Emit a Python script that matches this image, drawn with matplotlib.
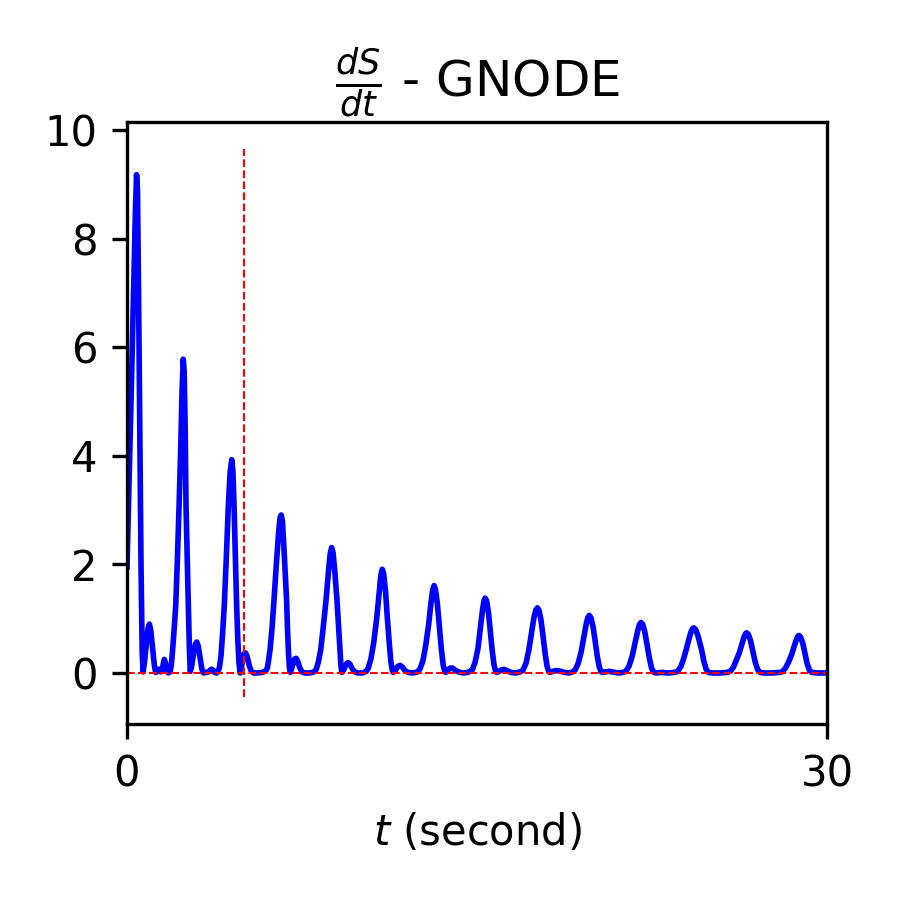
import matplotlib
matplotlib.use("Agg")
import matplotlib.pyplot as plt
import numpy as np

# ---- data (t in seconds, dS/dt) ----
t_early = [0.00, 0.10, 0.20, 0.30, 0.36, 0.41, 0.45, 0.50, 0.55, 0.60, 0.65, 0.69,
           0.75, 0.82, 0.90, 0.96, 1.02, 1.10, 1.17, 1.23, 1.30, 1.37, 1.44, 1.50,
           1.56, 1.60, 1.65, 1.72, 1.77, 1.85, 1.90, 1.95, 2.02, 2.09, 2.16, 2.23,
           2.30, 2.36, 2.41, 2.45, 2.49, 2.53, 2.58, 2.63, 2.67, 2.71, 2.76, 2.85,
           2.93, 2.99, 3.05, 3.13, 3.21, 3.28, 3.38, 3.50, 3.58, 3.63, 3.69, 3.76,
           3.84, 3.92, 3.96, 4.03, 4.10, 4.17, 4.25, 4.34, 4.42, 4.49, 4.54, 4.59,
           4.65, 4.70, 4.75, 4.80, 4.85, 4.90, 4.97, 5.03, 5.08, 5.15, 5.23, 5.32,
           5.42, 5.60, 5.80, 5.95]
ds_early = [1.95, 3.70, 5.50, 7.40, 8.50, 9.18, 8.90, 6.80, 4.30, 2.00, 0.40, 0.02,
            0.20, 0.50, 0.82, 0.90, 0.78, 0.45, 0.15, 0.01, 0.03, 0.07, 0.02, 0.03,
            0.18, 0.25, 0.18, 0.03, 0.00, 0.02, 0.15, 0.40, 0.80, 1.25, 2.10, 3.05,
            4.10, 5.20, 5.78, 5.55, 4.60, 3.06, 2.10, 1.22, 0.50, 0.03, 0.10, 0.35,
            0.53, 0.57, 0.50, 0.28, 0.07, 0.00, 0.01, 0.02, 0.06, 0.07, 0.05, 0.01,
            0.00, 0.05, 0.10, 0.32, 0.75, 1.25, 2.05, 3.05, 3.70, 3.93, 3.70, 3.05,
            2.05, 1.22, 0.60, 0.18, 0.00, 0.10, 0.27, 0.36, 0.37, 0.30, 0.15, 0.04,
            0.00, 0.00, 0.01, 0.04]

t_middle = [6.02, 6.13, 6.22, 6.30, 6.40, 6.50, 6.56, 6.61, 6.66, 6.72, 6.78, 6.84,
            6.88, 6.92, 6.96, 7.00, 7.05, 7.12, 7.19, 7.25, 7.32, 7.40, 7.50, 7.62,
            7.80, 7.95, 8.06, 8.12, 8.20, 8.30, 8.40, 8.53, 8.63, 8.71, 8.77, 8.83,
            8.90, 9.00, 9.07, 9.13, 9.17, 9.21, 9.28, 9.36, 9.43, 9.49, 9.56, 9.65,
            9.76, 9.90, 10.10, 10.25, 10.33, 10.45, 10.57, 10.70, 10.80, 10.88, 10.94,
            11.00, 11.08, 11.16, 11.24, 11.31, 11.37, 11.41, 11.50, 11.60, 11.70, 11.80,
            11.92, 12.05, 12.25, 12.45, 12.55, 12.68, 12.80, 12.93, 13.03, 13.10, 13.16,
            13.22, 13.30, 13.39, 13.47, 13.55, 13.61, 13.66, 13.75, 13.85, 13.95, 14.07,
            14.20, 14.40, 14.60, 14.70, 14.80, 14.92, 15.04, 15.15, 15.24, 15.30, 15.35,
            15.41, 15.49, 15.57, 15.65, 15.73, 15.80, 15.85, 15.95, 16.06, 16.16, 16.28,
            16.45, 16.65, 16.85]
ds_middle = [0.10, 0.42, 0.85, 1.34, 2.00, 2.60, 2.86, 2.91, 2.80, 2.35, 1.85, 1.34,
             0.80, 0.38, 0.10, 0.01, 0.07, 0.18, 0.26, 0.27, 0.21, 0.10, 0.02, 0.00,
             0.00, 0.01, 0.03, 0.08, 0.20, 0.42, 0.80, 1.34, 1.85, 2.20, 2.31, 2.22,
             1.90, 1.34, 0.85, 0.42, 0.12, 0.01, 0.05, 0.13, 0.18, 0.19, 0.16, 0.08,
             0.02, 0.00, 0.00, 0.03, 0.08, 0.25, 0.55, 1.00, 1.45, 1.80, 1.91,
             1.83, 1.50, 1.00, 0.55, 0.20, 0.05, 0.01, 0.05, 0.12, 0.14, 0.11,
             0.04, 0.01, 0.00, 0.02, 0.07, 0.22, 0.50, 0.90, 1.30, 1.53, 1.61,
             1.54, 1.28, 0.85, 0.45, 0.15, 0.04, 0.01, 0.05, 0.09, 0.09, 0.05,
             0.02, 0.00, 0.01, 0.03, 0.06, 0.20, 0.45, 0.85, 1.17, 1.33, 1.38,
             1.33, 1.12, 0.78, 0.42, 0.15, 0.03, 0.01, 0.03, 0.06, 0.065, 0.045,
             0.01, 0.00, 0.02]

t_late = [16.97, 17.10, 17.22, 17.34, 17.44, 17.52, 17.59, 17.66, 17.74, 17.83, 17.92,
          18.00, 18.07, 18.13, 18.25, 18.40, 18.55, 18.75, 18.95, 19.10, 19.20, 19.33,
          19.46, 19.58, 19.68, 19.75, 19.81, 19.88, 19.97, 20.06, 20.15, 20.24, 20.31,
          20.37, 20.50, 20.67, 20.85, 21.05, 21.25, 21.38, 21.52, 21.65, 21.78, 21.89,
          21.97, 22.03, 22.10, 22.19, 22.29, 22.39, 22.48, 22.56, 22.65, 22.90, 23.20,
          23.45, 23.60, 23.74, 23.86, 23.96, 24.08, 24.18, 24.25, 24.30, 24.37, 24.46,
          24.55, 24.63, 24.72, 24.82, 24.92, 25.10, 25.40, 25.70, 25.85, 25.98, 26.10,
          26.24, 26.35, 26.45, 26.52, 26.56, 26.63, 26.72, 26.84, 26.93, 27.03, 27.13,
          27.30, 27.65, 27.95, 28.08, 28.22, 28.35, 28.49, 28.60, 28.70, 28.76, 28.80,
          28.87, 28.96, 29.06, 29.15, 29.25, 29.35, 29.60, 30.00]
ds_late = [0.05, 0.18, 0.42, 0.75, 1.02, 1.16, 1.20, 1.15, 0.98, 0.68, 0.36,
           0.13, 0.03, 0.01, 0.03, 0.045, 0.035, 0.01, 0.00, 0.02, 0.05, 0.17,
           0.38, 0.66, 0.90, 1.02, 1.06, 1.02, 0.86, 0.60, 0.32, 0.11, 0.03,
           0.01, 0.02, 0.03, 0.015, 0.00, 0.01, 0.03, 0.13, 0.31, 0.56, 0.78,
           0.90, 0.93, 0.90, 0.76, 0.52, 0.27, 0.09, 0.02, 0.00, 0.01, 0.00,
           0.01, 0.03, 0.12, 0.27, 0.42, 0.62, 0.77, 0.82, 0.83, 0.80, 0.70,
           0.55, 0.42, 0.22, 0.07, 0.01, 0.00, 0.00, 0.01, 0.03, 0.10, 0.22,
           0.37, 0.53, 0.67, 0.73, 0.74, 0.71, 0.60, 0.37, 0.19, 0.06, 0.01,
           0.00, 0.00, 0.01, 0.02, 0.09, 0.20, 0.345, 0.50, 0.63, 0.68, 0.69,
           0.66, 0.55, 0.345, 0.17, 0.05, 0.01, 0.00, 0.00]

marker_time = 5.0
marker_ymin, marker_ymax = -0.44, 9.66
x_ticks = [0, 30]
y_ticks = [0, 2, 4, 6, 8, 10]

t_all = np.array(t_early + t_middle + t_late)
ds_all = np.array(ds_early + ds_middle + ds_late)

fig = plt.figure(figsize=(3, 3), dpi=300)
ax = fig.add_axes([127 / 900, 1 - 724 / 900, 700 / 900, 602 / 900])

ax.plot(t_all, ds_all, color="b", lw=1.35, solid_joinstyle="round")
ax.axhline(0, color="r", ls="--", lw=0.5)
ax.vlines(marker_time, marker_ymin, marker_ymax, colors="r", linestyles="--", lw=0.5)

ax.set_xlim(0, 30)
ax.set_ylim(-0.94, 10.15)
ax.set_xticks(x_ticks)
ax.set_yticks(y_ticks)
ax.tick_params(labelsize=10)
ax.set_xlabel(r"$t$ (second)", fontsize=10)
ax.set_title(r"$\frac{dS}{dt}$ - GNODE", fontsize=12)

fig.savefig("out.png", dpi=300)
